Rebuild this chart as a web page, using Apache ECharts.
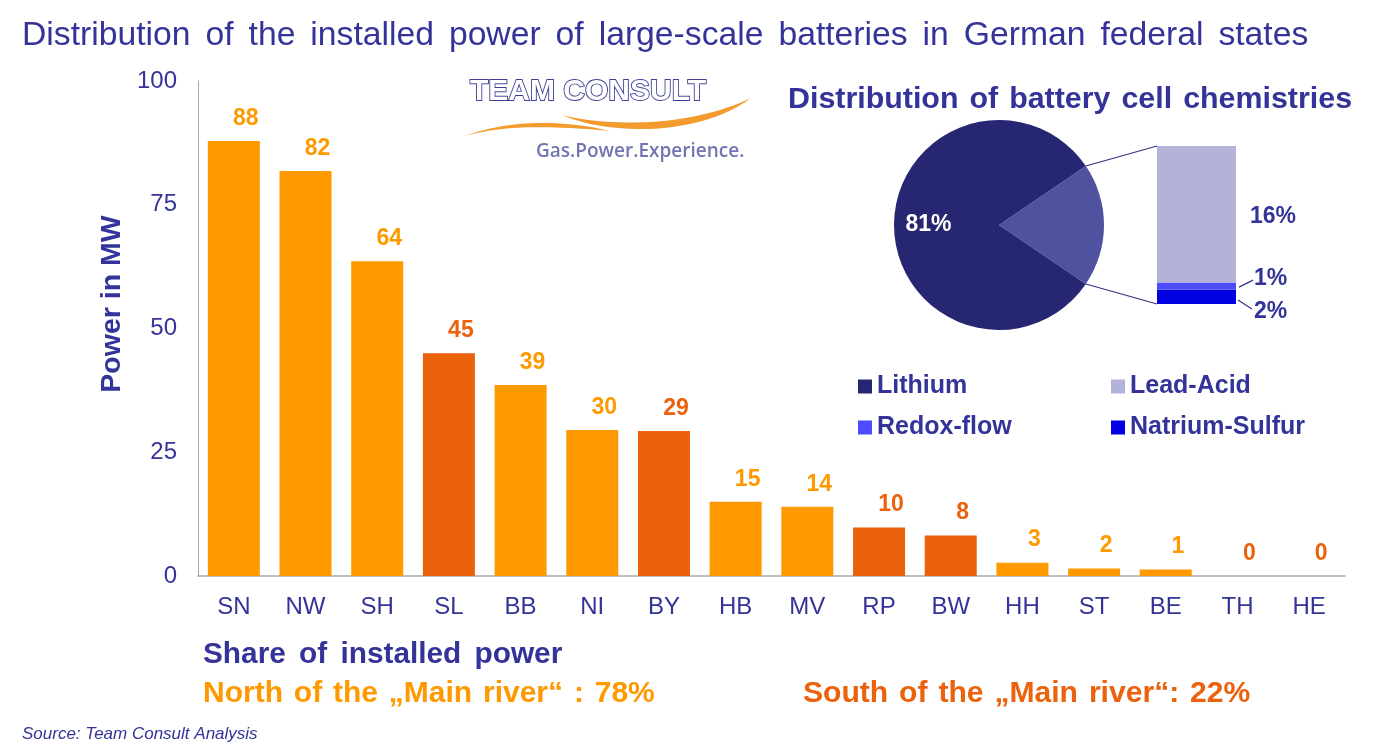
<!DOCTYPE html>
<html lang="en">
<head>
    <meta charset="UTF-8">
    <title>Large-scale batteries in German federal states</title>
    <script src="https://cdn.jsdelivr.net/npm/echarts@6/dist/echarts.min.js"></script>
    <style>
        html, body { margin: 0; padding: 0; background: #fff; }
        #chart { width: 1378px; height: 753px; }
    </style>
</head>
<body>
    <div id="chart"></div>
    <script>
        // values
        const states = ['SN', 'NW', 'SH', 'SL', 'BB', 'NI', 'BY', 'HB', 'MV', 'RP', 'BW', 'HH', 'ST', 'BE', 'TH', 'HE'];
        const powerMW = [87.9, 81.8, 63.6, 45, 38.6, 29.5, 29.3, 15, 14, 9.8, 8.2, 2.7, 1.5, 1.3, 0, 0];
        const regions = ['N', 'N', 'N', 'S', 'N', 'N', 'S', 'N', 'N', 'S', 'S', 'N', 'N', 'N', 'S', 'S'];
        const yTicks = [0, 25, 50, 75, 100];
        const lithiumShare = 81;
        const otherNames = ['Lead-Acid', 'Redox-flow', 'Natrium-Sulfur'];
        const otherShares = [16.4, 0.9, 1.7];

        const BLUE = '#333399';
        const ORANGE = '#FF9900';
        const DARK_ORANGE = '#EC610B';
        const otherColors = ['#B3B3D9', '#4D4DFF', '#0000E0'];
        const FONT = '"Liberation Sans", Arial, sans-serif';

        const pieCenter = [999, 225];
        const pieRadius = 105;

        const otherTotal = otherShares.reduce((a, b) => a + b, 0);
        const halfAngle = otherTotal / (otherTotal + lithiumShare) * 180;

        function regionColor(r) {
            return r === 'N' ? ORANGE : DARK_ORANGE;
        }

        // the slide text is justified, so word gaps are wider than one space
        function wide(str, extra) {
            return str.split(' ').join(' ' + extra);
        }
        const SIX_PER_EM = '\u2006';
        const HAIR = '\u200A';

        function legendAt(name, left, top) {
            return {
                data: [name],
                left: left,
                top: top,
                orient: 'horizontal',
                selectedMode: false,
                icon: 'rect',
                itemWidth: 14,
                itemHeight: 14,
                itemGap: 0,
                padding: 0,
                textStyle: { color: BLUE, fontFamily: FONT, fontWeight: 'bold', fontSize: 25 }
            };
        }

        function text(str, x, y, size, color, extra) {
            return {
                type: 'text',
                x: x,
                y: y + 2,
                silent: true,
                style: Object.assign({
                    text: str,
                    fill: color,
                    font: 'bold ' + size + 'px ' + FONT,
                    textVerticalAlign: 'middle'
                }, extra || {})
            };
        }

        // logo swoosh: two cubic edges sampled into a filled polygon
        function swoosh(a, c1, c2, b, c3, c4) {
            const pts = [];
            const cubic = (p0, p1, p2, p3, t) => {
                const u = 1 - t;
                return [0, 1].map(k => u * u * u * p0[k] + 3 * u * u * t * p1[k] + 3 * u * t * t * p2[k] + t * t * t * p3[k]);
            };
            for (let i = 0; i <= 24; i++) pts.push(cubic(a, c1, c2, b, i / 24));
            for (let i = 1; i < 24; i++) pts.push(cubic(b, c3, c4, a, i / 24));
            return {
                type: 'polygon',
                silent: true,
                shape: { points: pts },
                style: { fill: '#F39C2D' }
            };
        }

        const chart = echarts.init(document.getElementById('chart'));

        const series = [
            {
                type: 'bar',
                name: 'Power',
                xAxisIndex: 0,
                yAxisIndex: 0,
                barWidth: 52,
                data: powerMW.map((v, i) => ({
                    value: v,
                    itemStyle: { color: regionColor(regions[i]) },
                    label: { color: regionColor(regions[i]) }
                })),
                label: {
                    show: true,
                    position: 'top',
                    distance: 11,
                    offset: [12, 0],
                    fontFamily: FONT,
                    fontWeight: 'bold',
                    fontSize: 23,
                    formatter: p => Math.round(p.value)
                }
            },
            {
                type: 'pie',
                center: pieCenter,
                radius: pieRadius,
                startAngle: halfAngle,
                clockwise: true,
                silent: true,
                data: [
                    {
                        name: 'Other',
                        value: otherTotal,
                        itemStyle: { color: '#4F529F' },
                        label: { show: false }
                    },
                    {
                        name: 'Lithium',
                        value: lithiumShare,
                        itemStyle: { color: '#262673' },
                        label: {
                            show: true,
                            position: 'inside',
                            formatter: '{c}%',
                            color: '#fff',
                            fontFamily: FONT,
                            fontWeight: 'bold',
                            fontSize: 23,
                            // pushes the text left of the slice's middle
                            padding: [4, 30, 0, 0]
                        }
                    }
                ],
                labelLine: { show: false }
            }
        ];

        // stacked column that explodes the pie slice, built from the bottom up
        const labelOffsets = [[14, 2], [18, -7], [18, 15]];
        [2, 1, 0].forEach(i => {
            series.push({
                type: 'bar',
                name: otherNames[i],
                stack: 'other',
                xAxisIndex: 1,
                yAxisIndex: 1,
                barWidth: '100%',
                silent: true,
                itemStyle: { color: otherColors[i] },
                data: [otherShares[i]],
                label: {
                    show: true,
                    position: 'right',
                    distance: 0,
                    offset: labelOffsets[i],
                    color: BLUE,
                    fontFamily: FONT,
                    fontWeight: 'bold',
                    fontSize: 23,
                    formatter: p => Math.round(p.value) + '%'
                }
            });
        });

        const logo = [
            text('TEAM CONSULT', 470, 90, 30, '#fff', { stroke: '#3F3F98', lineWidth: 1.8 }),
            swoosh([562, 115], [610, 127], [690, 127], [751, 98], [700, 136], [610, 136]),
            swoosh([465, 136], [510, 119], [565, 120], [610, 131], [565, 127], [510, 123]),
            text('Gas.Power.Experience.', 536, 150, 19, '#7276B0', { font: '600 19px "Open Sans", sans-serif' })
        ];

        const labels = [
            text(wide('Distribution of the installed power of large-scale batteries in German federal states', SIX_PER_EM), 22, 34, 33.7, BLUE, { font: '33.7px ' + FONT }),
            text(wide('Distribution of battery cell chemistries', HAIR), 788, 98, 30.4, BLUE),
            text(wide('Share of installed power', SIX_PER_EM), 203, 653, 29.8, BLUE),
            text(wide('North of the \u201EMain river\u201C : 78%', HAIR), 203, 692, 30, ORANGE),
            text(wide('South of the \u201EMain river\u201C: 22%', HAIR), 803, 692, 30.1, DARK_ORANGE),
            text('Source: Team Consult Analysis', 22, 732, 17, BLUE, { font: 'italic 17px ' + FONT }),
            text('Power in MW', 112, 302, 28.5, BLUE, { textAlign: 'center' })
        ];
        // y axis title sits above the middle of the axis
        labels[labels.length - 1].rotation = Math.PI / 2;

        chart.setOption({
            animation: false,
            backgroundColor: '#fff',
            legend: [
                legendAt('Lithium', 858, 374),
                legendAt(otherNames[0], 1111, 374),
                legendAt(otherNames[1], 858, 415),
                legendAt(otherNames[2], 1111, 415)
            ],
            grid: [
                { left: 198, top: 81, width: 1147, height: 495 },
                { left: 1157, top: 146, width: 79, height: 158 }
            ],
            xAxis: [
                {
                    type: 'category',
                    gridIndex: 0,
                    data: states,
                    axisTick: { show: false },
                    axisLine: { lineStyle: { color: '#AAAAAA', width: 1.5 } },
                    axisLabel: { color: BLUE, fontFamily: FONT, fontSize: 24, margin: 19, interval: 0 }
                },
                { type: 'category', gridIndex: 1, data: ['Other'], show: false }
            ],
            yAxis: [
                {
                    type: 'value',
                    gridIndex: 0,
                    min: yTicks[0],
                    max: yTicks[yTicks.length - 1],
                    interval: yTicks[1] - yTicks[0],
                    axisLine: { show: true, lineStyle: { color: '#AAAAAA' } },
                    axisTick: { show: false },
                    splitLine: { show: false },
                    axisLabel: { color: BLUE, fontFamily: FONT, fontSize: 24, margin: 21 }
                },
                { type: 'value', gridIndex: 1, min: 0, max: otherTotal, show: false }
            ],
            series: series,
            graphic: logo.concat(labels)
        });

        // connectors from the pie slice to the column, and the short label leaders
        const rad = halfAngle * Math.PI / 180;
        const sliceX = pieCenter[0] + pieRadius * Math.cos(rad);
        const sliceDy = pieRadius * Math.sin(rad);
        const colTop = chart.convertToPixel({ gridIndex: 1 }, [0, otherTotal]);
        const colBottom = chart.convertToPixel({ gridIndex: 1 }, [0, 0]);
        const colLeft = 1157;
        const colRight = 1236;
        const redoxY = chart.convertToPixel({ gridIndex: 1 }, [0, otherShares[2] + otherShares[1] / 2])[1];

        function line(x1, y1, x2, y2) {
            return {
                type: 'line',
                silent: true,
                shape: { x1: x1, y1: y1, x2: x2, y2: y2 },
                style: { stroke: '#333380', lineWidth: 1.2 }
            };
        }

        chart.setOption({
            graphic: logo.concat(labels).concat([
                line(sliceX, pieCenter[1] - sliceDy, colLeft, colTop[1]),
                line(sliceX, pieCenter[1] + sliceDy, colLeft, colBottom[1]),
                line(colRight + 3, redoxY + 1, colRight + 17, redoxY - 6),
                line(colRight + 2, colBottom[1] - 4, colRight + 16, colBottom[1] + 5)
            ])
        });
    </script>
</body>
</html>
